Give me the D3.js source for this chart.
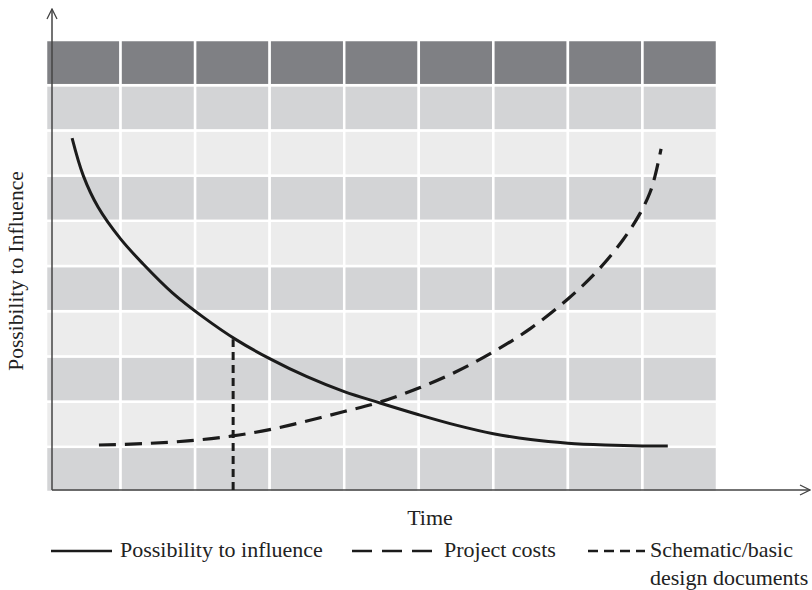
<!DOCTYPE html>
<html>
<head>
<meta charset="utf-8">
<script src="https://cdn.jsdelivr.net/npm/d3@7"></script>
<style>
  body { margin: 0; background: #fff; }
  text { font-family: "Liberation Serif", "DejaVu Serif", serif; fill: #222; }
</style>
</head>
<body>
<script>
// time columns and influence rows of the background grid
const columns = d3.range(9);
const rows = d3.range(10);

// Possibility to influence (solid)
const influenceX = [0.35, 0.5, 0.7, 1.0, 1.3, 1.7, 2.1, 2.56, 3.0, 3.5, 4.0, 4.48, 5.0, 5.5, 6.0, 6.5, 7.0, 7.5, 8.0, 8.34];
const influenceY = [7.83, 7.00, 6.30, 5.60, 5.05, 4.40, 3.88, 3.36, 2.95, 2.55, 2.22, 1.97, 1.71, 1.48, 1.29, 1.16, 1.08, 1.04, 1.02, 1.02];

// Project costs (long dash)
const costsX = [0.71, 1.3, 1.9, 2.5, 3.0, 3.5, 4.0, 4.48, 5.0, 5.5, 6.0, 6.5, 7.0, 7.4, 7.74, 7.97, 8.10, 8.17, 8.25];
const costsY = [1.04, 1.07, 1.13, 1.24, 1.38, 1.57, 1.78, 1.99, 2.30, 2.66, 3.10, 3.62, 4.27, 4.90, 5.58, 6.17, 6.62, 7.00, 7.59];

// Schematic/basic design documents (short dash, vertical)
const schematicX = [2.51, 2.51];
const schematicY = [0, 3.38];

const legendLabels = [["Possibility to influence"], ["Project costs"], ["Schematic/basic", "design documents"]];
const legendDash = ["none", "20,10", "10,6"];

const width = 812, height = 590;

var svg = d3.select("body").append("svg")
    .attr("width", width)
    .attr("height", height);

var x = d3.scaleLinear().domain([0, 9]).range([46, 717]);
var y = d3.scaleLinear().domain([0, 10]).range([492, 40]);

// grid cells
var rowFill = function (r) {
    if (r === 9) return "#7f8084";
    return r % 2 === 0 ? "#d3d4d6" : "#ececec";
};
rows.forEach(function (r) {
    svg.selectAll(null)
        .data(columns)
        .enter().append("rect")
        .attr("x", function (c) { return x(c); })
        .attr("y", y(r + 1))
        .attr("width", x(1) - x(0))
        .attr("height", y(r) - y(r + 1))
        .attr("fill", rowFill(r))
        .attr("stroke", "#fff")
        .attr("stroke-width", 2.5);
});

// arrow marker
svg.append("defs").append("marker")
    .attr("id", "arrow")
    .attr("viewBox", "0 0 12 12")
    .attr("refX", 11).attr("refY", 6)
    .attr("markerWidth", 12).attr("markerHeight", 12)
    .attr("markerUnits", "userSpaceOnUse")
    .attr("orient", "auto")
    .append("path")
    .attr("d", "M1,1 L11,6 L1,11")
    .attr("fill", "none")
    .attr("stroke", "#444")
    .attr("stroke-width", 1.3);

// axes
svg.append("line")
    .attr("x1", 52).attr("y1", 490).attr("x2", 52).attr("y2", 9)
    .attr("stroke", "#444").attr("stroke-width", 1.5)
    .attr("marker-end", "url(#arrow)");
svg.append("line")
    .attr("x1", 52).attr("y1", 490).attr("x2", 810).attr("y2", 490)
    .attr("stroke", "#444").attr("stroke-width", 1.5)
    .attr("marker-end", "url(#arrow)");

var line = d3.line()
    .x(function (d) { return x(d[0]); })
    .y(function (d) { return y(d[1]); })
    .curve(d3.curveCatmullRom.alpha(0.5));

svg.append("path")
    .datum(d3.zip(influenceX, influenceY))
    .attr("d", line)
    .attr("fill", "none")
    .attr("stroke", "#1b1b1b")
    .attr("stroke-width", 3);

svg.append("path")
    .datum(d3.zip(costsX, costsY))
    .attr("d", line)
    .attr("fill", "none")
    .attr("stroke", "#1b1b1b")
    .attr("stroke-width", 3.2)
    .attr("stroke-dasharray", "17,9");

svg.append("line")
    .attr("x1", x(schematicX[0])).attr("y1", y(schematicY[0]) - 2)
    .attr("x2", x(schematicX[1])).attr("y2", y(schematicY[1]))
    .attr("stroke", "#1b1b1b")
    .attr("stroke-width", 3)
    .attr("stroke-dasharray", "8,5");

// axis titles
svg.append("text")
    .attr("x", 430).attr("y", 525)
    .attr("text-anchor", "middle")
    .attr("font-size", 22)
    .text("Time");

svg.append("text")
    .attr("transform", "translate(23,271) rotate(-90)")
    .attr("text-anchor", "middle")
    .attr("font-size", 21.5)
    .text("Possibility to Influence");

// legend
var legendX = [[51, 112, 120], [352, 437, 444], [588, 645, 650]];
legendLabels.forEach(function (lab, i) {
    var p = legendX[i];
    svg.append("line")
        .attr("x1", p[0]).attr("x2", p[1])
        .attr("y1", 551).attr("y2", 551)
        .attr("stroke", "#1b1b1b")
        .attr("stroke-width", 2.5)
        .attr("stroke-dasharray", legendDash[i]);
    var t = svg.append("text")
        .attr("x", p[2]).attr("y", 557)
        .attr("font-size", 22);
    lab.forEach(function (s, j) {
        t.append("tspan").attr("x", p[2]).attr("dy", j === 0 ? 0 : 28).text(s);
    });
});
</script>
</body>
</html>
